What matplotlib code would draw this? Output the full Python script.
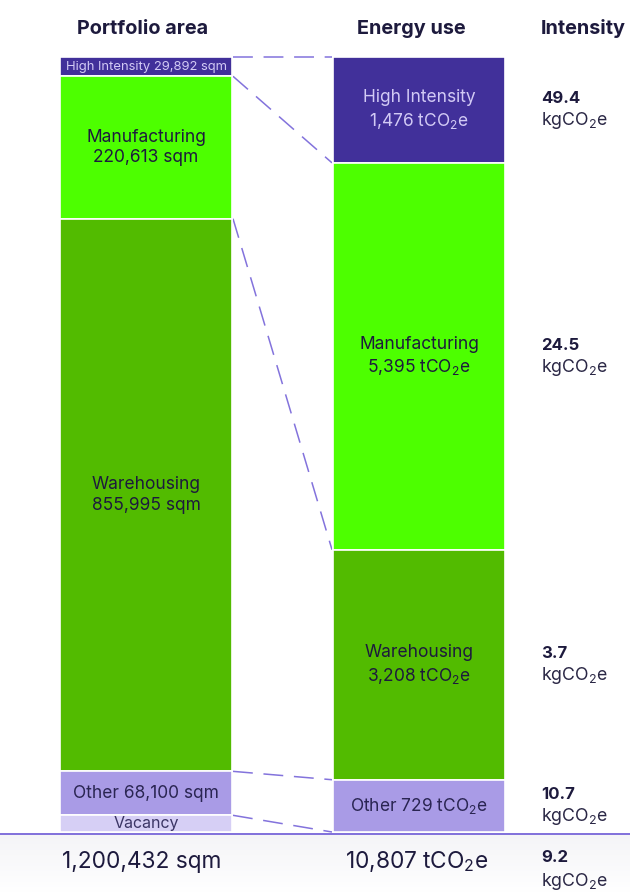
import matplotlib
matplotlib.use("Agg")
import matplotlib.pyplot as plt
import numpy as np

plt.rcParams['font.family'] = ['Inter', 'DejaVu Sans']
plt.rcParams['mathtext.fontset'] = 'custom'
plt.rcParams['mathtext.rm'] = 'Inter'
plt.rcParams['mathtext.it'] = 'Inter'
plt.rcParams['mathtext.bf'] = 'Inter:bold'

# data
area_names = ["High Intensity", "Manufacturing", "Warehousing", "Other", "Vacancy"]
area_sqm = [29892, 220613, 855995, 68100, 25832]
area_total = 1200432

energy_names = ["High Intensity", "Manufacturing", "Warehousing", "Other"]
energy_t = [1476, 5395, 3208, 729]
energy_total = 10807

intensity = [49.4, 24.5, 3.7, 10.7]
intensity_total = 9.2

# colours
c_dark = "#41309a"
c_bright = "#4dff00"
c_green = "#52bb00"
c_other = "#a99be6"
c_vac = "#d6cff5"
seg_cols = [c_dark, c_bright, c_green, c_other, c_vac]
txt_dark = "#1d1a3d"
txt_light = "#d2caf5"
line_col = "#6d5ad6"

CO2 = r"tCO$_{\mathregular{2}}$e"
KG = r"kgCO$_{\mathregular{2}}$e"

fig = plt.figure(figsize=(6.3, 8.93), dpi=100)
ax = fig.add_axes([0, 0, 1, 1])
ax.set_xlim(0, 630)
# y in share of total: 1 at top of bars (px 57), 0 at bottom (px 832)
top_px, bot_px = 57, 832
span = bot_px - top_px
ax.set_ylim((bot_px - 893) / span, bot_px / span)
ax.axis("off")

def px(n):
    return n / span

# light gradient at the bottom
grad = np.linspace(0, 1, 50).reshape(-1, 1)
ax.imshow(grad, extent=(0, 630, px(-61), px(-2)), aspect="auto",
          cmap=matplotlib.colors.LinearSegmentedColormap.from_list("g", ["#f4f4f7", "#ffffff"]),
          zorder=0)

lx, rx, w = 60, 333, 172
fs = 12.5

# left bar: portfolio area
a_share = np.array(area_sqm) / area_total
a_top = 1 - np.concatenate([[0], np.cumsum(a_share)[:-1]])
a_bot = a_top - a_share
ax.bar(lx, a_share, bottom=a_bot, width=w, align="edge", color=seg_cols,
       edgecolor="white", linewidth=1.2, zorder=2)

# right bar: energy use
e_share = np.array(energy_t) / sum(energy_t)
e_top = 1 - np.concatenate([[0], np.cumsum(e_share)[:-1]])
e_bot = e_top - e_share
ax.bar(rx, e_share, bottom=e_bot, width=w, align="edge", color=seg_cols[:4],
       edgecolor="white", linewidth=1.2, zorder=2)

# dashed connectors
left_pts = list(a_top[:4]) + [a_bot[3]]
right_pts = list(e_top) + [e_bot[3]]
for yl, yr in zip(left_pts, right_pts):
    ax.plot([lx + w + 1, rx - 1], [yl, yr], color=line_col, lw=1.1,
            dashes=(13, 7), alpha=0.85, zorder=1)

# left labels
a_mid = (a_top + a_bot) / 2
ax.text(lx + w / 2, a_mid[0], "High Intensity 29,892 sqm", ha="center", va="center",
        fontsize=9.4, color=txt_light, zorder=3)
ax.text(lx + w / 2, a_mid[1], "Manufacturing\n220,613 sqm", ha="center", va="center",
        fontsize=fs, color=txt_dark, linespacing=1.3, zorder=3)
ax.text(lx + w / 2, a_mid[2], "Warehousing\n855,995 sqm", ha="center", va="center",
        fontsize=fs, color=txt_dark, linespacing=1.3, zorder=3)
ax.text(lx + w / 2, a_mid[3], "Other 68,100 sqm", ha="center", va="center",
        fontsize=fs, color="#2a2552", zorder=3)
ax.text(lx + w / 2, a_mid[4], "Vacancy", ha="center", va="center",
        fontsize=11.5, color="#3b3565", zorder=3)

# right labels
e_mid = (e_top + e_bot) / 2
for i, name in enumerate(energy_names):
    col = txt_light if i == 0 else txt_dark
    if name == "Other":
        ax.text(rx + w / 2, e_mid[i], f"Other {energy_t[i]:,} " + CO2, ha="center",
                va="center", fontsize=fs, color="#2a2552", zorder=3)
    else:
        ax.text(rx + w / 2, e_mid[i] + px(12), name, ha="center", va="center",
                fontsize=fs, color=col, zorder=3)
        ax.text(rx + w / 2, e_mid[i] - px(11), f"{energy_t[i]:,} " + CO2, ha="center",
                va="center", fontsize=fs, color=col, zorder=3)

# intensity column
ix = 541
for i, v in enumerate(intensity):
    ax.text(ix, e_mid[i] + px(11), f"{v}", ha="left", va="center",
            fontsize=12, fontweight="bold", color=txt_dark)
    ax.text(ix, e_mid[i] - px(11), KG, ha="left", va="center",
            fontsize=12.8, color="#2a2745")

# headings
hy = px(bot_px - 29)
ax.text(lx + w / 2 - 3, hy, "Portfolio area", ha="center", va="center",
        fontsize=14.3, fontweight="bold", color=txt_dark)
ax.text(rx + w / 2 - 8, hy, "Energy use", ha="center", va="center",
        fontsize=14.3, fontweight="bold", color=txt_dark)
ax.text(ix, hy, "Intensity", ha="left", va="center",
        fontsize=14.3, fontweight="bold", color=txt_dark)

# baseline and totals
ax.axhline(px(-1.5), color=line_col, lw=1.2, zorder=4)
ax.text(lx + 2, px(-30), f"{area_total:,} sqm", ha="left", va="center",
        fontsize=16.3, color=txt_dark)
ax.text(rx + 12, px(-30), f"{energy_total:,} " + CO2, ha="left", va="center",
        fontsize=16.3, color=txt_dark)
ax.text(ix, px(-26), f"{intensity_total}", ha="left", va="center",
        fontsize=12, fontweight="bold", color=txt_dark)
ax.text(ix, px(-49), KG, ha="left", va="center", fontsize=12.8, color="#2a2745")

fig.savefig("out.png", dpi=100)
